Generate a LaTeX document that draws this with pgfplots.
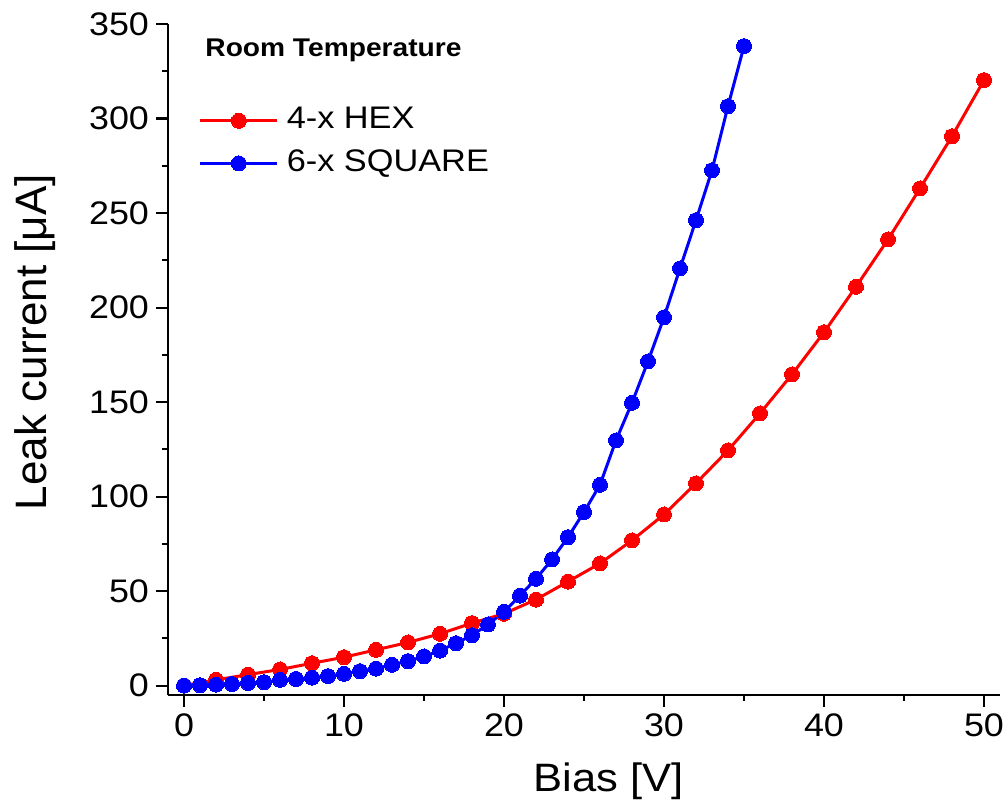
\documentclass[border=0pt]{standalone}
\usepackage{pgfplots}
\pgfplotsset{compat=1.18}
\usepackage{fontspec}
\setmainfont{Liberation Sans}[FakeStretch=1.1]
\newfontfamily\ylfont{Liberation Sans}
\definecolor{cred}{RGB}{255,0,0}
\definecolor{cblue}{RGB}{0,0,255}
\begin{document}
\begin{tikzpicture}
\begin{axis}[
 scale only axis, width=416pt, height=335.5pt,
 xmin=-1, xmax=51, ymin=-5, ymax=350,
 axis lines*=left,
 axis line style={line width=1pt},
 xtick={0,10,...,50}, ytick={0,50,...,350},
 minor x tick num=1, minor y tick num=1,
 tick align=outside,
 major tick length=6pt, minor tick length=3pt,
 every tick/.style={black, line width=1pt},
 tick label style={font=\fontsize{16.3}{19}\selectfont},
 /pgf/number format/assume math mode=true,
 xlabel={Bias [V]}, ylabel={Leak current [μA]},
 xlabel style={font=\fontsize{19.8}{23}\selectfont, at={(axis description cs:0.5295,-0.129)}, anchor=center},
 ylabel style={font=\ylfont\fontsize{22}{26}\selectfont, at={(axis description cs:-0.16,0.526)}, anchor=center},
 clip=false,
 legend style={draw=none, fill=none, inner sep=0pt, outer sep=0pt,
   at={(axis description cs:0.037,0.824)}, anchor=west,
   font=\fontsize{15.6}{18}\selectfont,
   nodes={inner sep=2pt, text height=11pt, text depth=3pt},
   row sep=3.3pt, column sep=2pt},
 legend cell align=left,
 legend image code/.code={\draw[mark repeat=2,mark phase=2,#1] plot coordinates {(0pt,0pt)(19.25pt,0pt)(38.5pt,0pt)};},
]
\addplot[cred, line width=1.5pt, mark=*, mark size=3.75pt, mark options={solid, fill=cred, draw=cred, line width=0pt}] coordinates {
(0,0)(2,3)(4,5.8)(6,8.5)(8,11.8)(10,15)(12,18.9)(14,22.8)(16,27.4)(18,33)
(20,38)(22,45.5)(24,55)(26,64.6)(28,76.8)(30,90.5)(32,107)(34,124.4)(36,144)
(38,164.6)(40,186.9)(42,211)(44,236)(46,263)(48,290.6)(50,320.3)};
\addlegendentry{4-x HEX}
\addplot[cblue, line width=1.5pt, mark=*, mark size=3.75pt, mark options={solid, fill=cblue, draw=cblue, line width=0pt}] coordinates {
(0,0)(1,0.2)(2,0.5)(3,0.8)(4,1.4)(5,1.8)(6,3)(7,3.5)(8,4.2)(9,5)(10,6.2)
(11,7.6)(12,9)(13,11)(14,12.9)(15,15.4)(16,18.5)(17,22.4)(18,26.6)(19,32.3)
(20,39)(21,47.6)(22,56.5)(23,66.7)(24,78.5)(25,91.8)(26,106.2)(27,129.7)
(28,149.6)(29,171.5)(30,194.8)(31,220.7)(32,246.2)(33,272.6)(34,306.5)(35,338.3)};
\addlegendentry{6-x SQUARE}
\node[anchor=west, font=\bfseries\fontsize{12.8}{15}\selectfont, inner sep=0pt] at (axis description cs:0.0445,0.9603) {Room Temperature};
\coordinate (bl) at (rel axis cs:0,0);
\coordinate (tr) at (rel axis cs:1,1);
\end{axis}
\pgfresetboundingbox
\path[use as bounding box] ([xshift=-84pt,yshift=-53.5pt]bl) rectangle ([xshift=2.5pt,yshift=12pt]tr);
\end{tikzpicture}
\end{document}
